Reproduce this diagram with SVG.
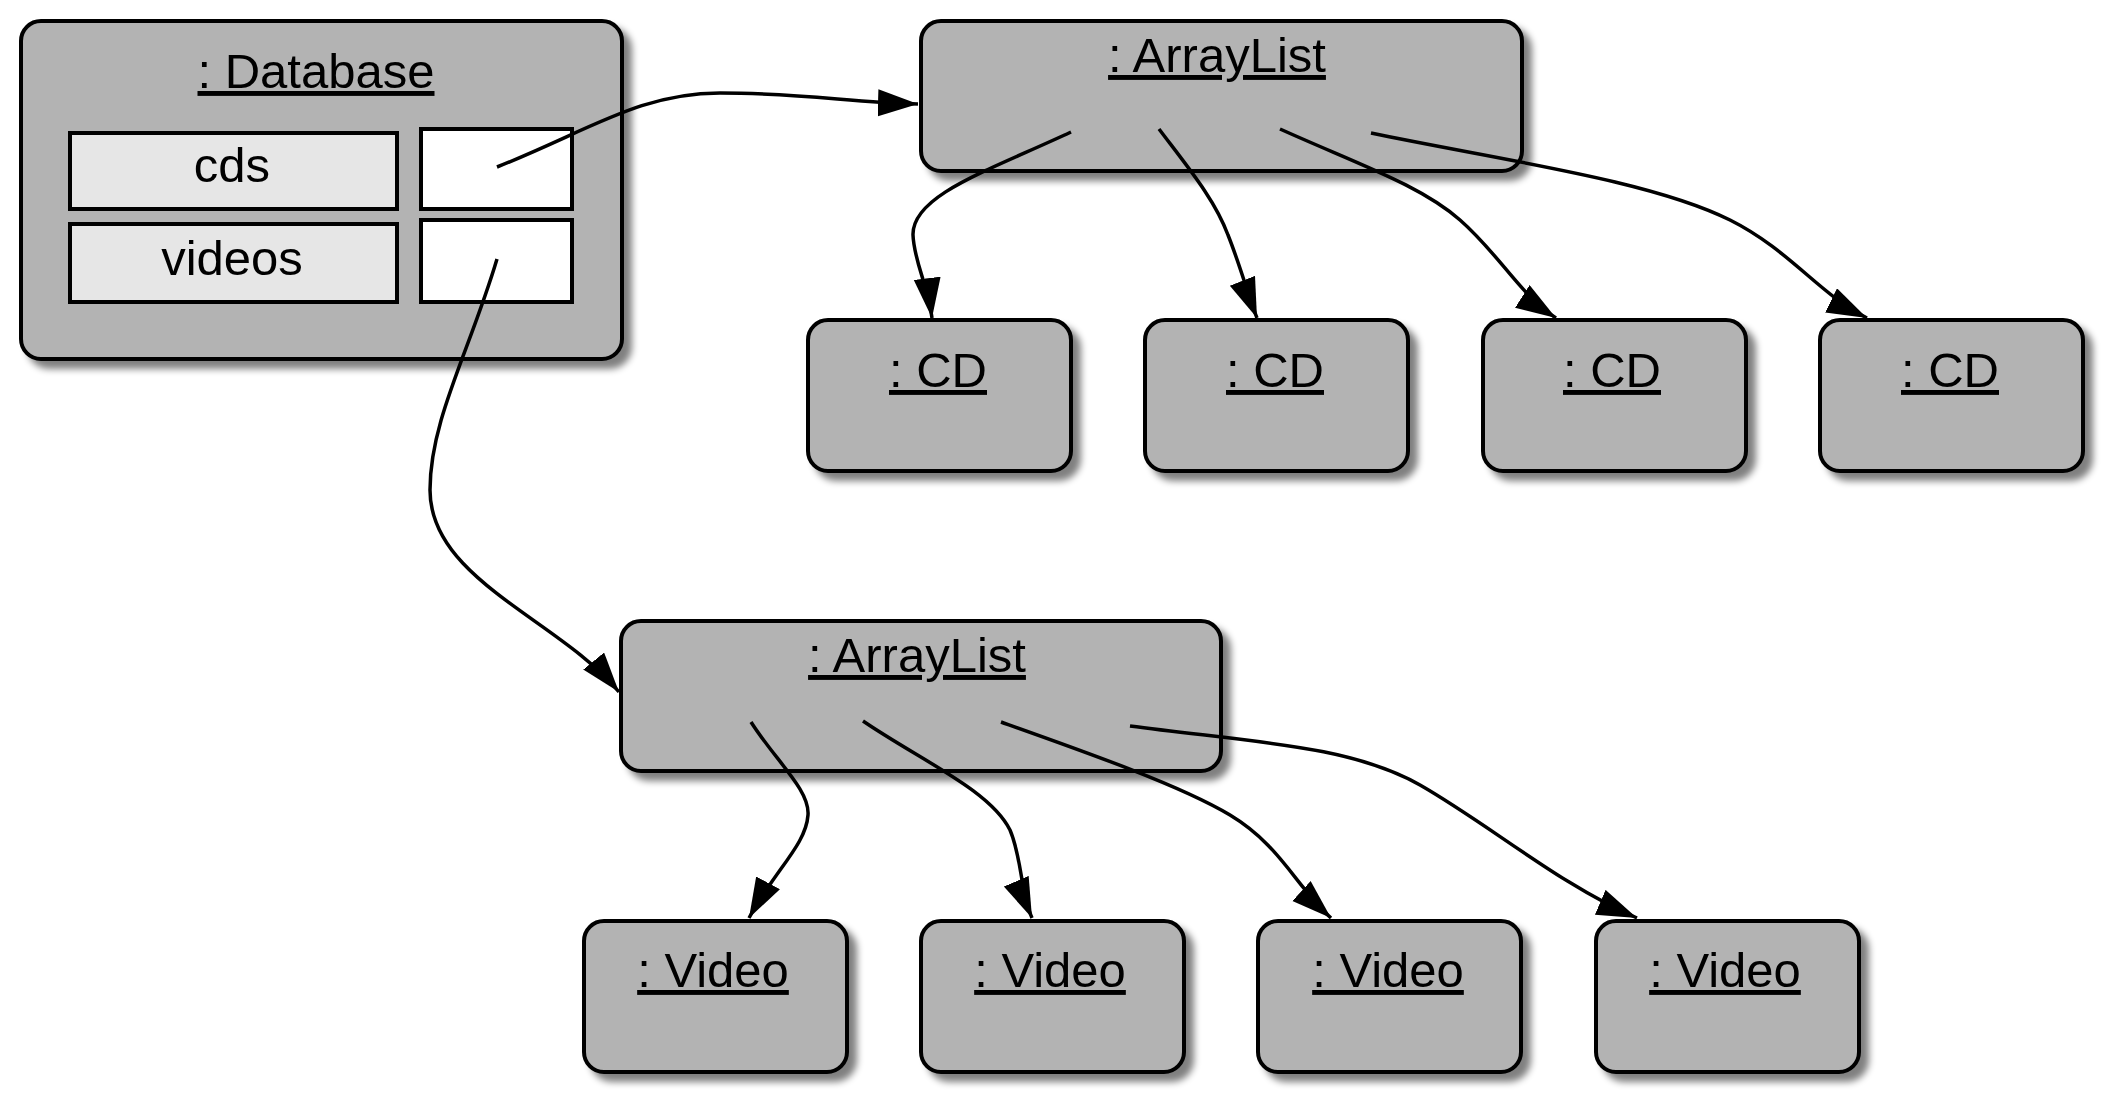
<svg xmlns="http://www.w3.org/2000/svg" width="2108" height="1095" viewBox="0 0 2108 1095">
<defs>
<filter id="sh" x="-10%" y="-10%" width="130%" height="140%">
<feGaussianBlur in="SourceAlpha" stdDeviation="3.5"/>
<feOffset dx="8" dy="8" result="b"/>
<feComponentTransfer in="b" result="c"><feFuncA type="linear" slope="0.5"/></feComponentTransfer>
<feMerge><feMergeNode in="c"/><feMergeNode in="SourceGraphic"/></feMerge>
</filter>
<marker id="ah" markerUnits="userSpaceOnUse" markerWidth="42" markerHeight="30" refX="40" refY="13.5" orient="auto" viewBox="0 0 42 30">
<path d="M0,0 L40,13.5 L0,27 z" fill="#000"/>
</marker>
</defs>
<style>
.obj{fill:#b3b3b3;stroke:#000;stroke-width:4;filter:url(#sh)}
.lbl{fill:#e6e6e6;stroke:#000;stroke-width:4}
.val{fill:#fff;stroke:#000;stroke-width:4}
text{font-family:"Liberation Sans",Arial,sans-serif;font-size:49px;fill:#000;text-anchor:middle}
.u{text-decoration:underline}
.c{fill:none;stroke:#000;stroke-width:3.5;marker-end:url(#ah)}
</style>
<rect width="2108" height="1095" fill="#fff"/>
<g id="database">
<rect class="obj" x="21" y="21" width="601" height="338" rx="20"/>
<text class="u" x="316" y="88">: Database</text>
<rect class="lbl" x="70" y="133" width="327" height="76"/>
<text x="232" y="182">cds</text>
<rect class="val" x="421" y="129" width="151" height="80"/>
<rect class="lbl" x="70" y="224" width="327" height="78"/>
<text x="232" y="275">videos</text>
<rect class="val" x="421" y="220" width="151" height="82"/>
</g>
<g id="arraylist1">
<rect class="obj" x="921" y="21" width="601" height="150" rx="20"/>
<text class="u" x="1217" y="72">: ArrayList</text>
</g>
<g id="cd1"><rect class="obj" x="808" y="320" width="263" height="151" rx="20"/><text class="u" x="938" y="387">: CD</text></g>
<g id="cd2"><rect class="obj" x="1145" y="320" width="263" height="151" rx="20"/><text class="u" x="1275" y="387">: CD</text></g>
<g id="cd3"><rect class="obj" x="1483" y="320" width="263" height="151" rx="20"/><text class="u" x="1612" y="387">: CD</text></g>
<g id="cd4"><rect class="obj" x="1820" y="320" width="263" height="151" rx="20"/><text class="u" x="1950" y="387">: CD</text></g>
<g id="arraylist2">
<rect class="obj" x="621" y="621" width="600" height="150" rx="20"/>
<text class="u" x="917" y="672">: ArrayList</text>
</g>
<g id="video1"><rect class="obj" x="584" y="921" width="263" height="151" rx="20"/><text class="u" x="713" y="987">: Video</text></g>
<g id="video2"><rect class="obj" x="921" y="921" width="263" height="151" rx="20"/><text class="u" x="1050" y="987">: Video</text></g>
<g id="video3"><rect class="obj" x="1258" y="921" width="263" height="151" rx="20"/><text class="u" x="1388" y="987">: Video</text></g>
<g id="video4"><rect class="obj" x="1596" y="921" width="263" height="151" rx="20"/><text class="u" x="1725" y="987">: Video</text></g>
<g id="connectors">
<path class="c" d="M497,167 C590,130 640,93 720,93 S850,102 918,104"/>
<path class="c" d="M497,259 C470,350 430,420 430,490 C430,580 560,620 619,692"/>
<path class="c" d="M1071,132 C990,170 912,195 913,235 C914,262 928,285 932,318"/>
<path class="c" d="M1159,129 C1190,170 1215,200 1228,235 C1240,265 1248,295 1257,318"/>
<path class="c" d="M1280,129 C1360,165 1420,185 1460,220 C1500,255 1520,295 1556,318"/>
<path class="c" d="M1371,133 C1500,160 1650,180 1730,220 C1790,250 1820,295 1867,318"/>
<path class="c" d="M751,722 C775,760 810,790 808,815 C806,845 775,870 749,918"/>
<path class="c" d="M863,721 C920,760 990,790 1010,830 C1022,858 1020,890 1032,918"/>
<path class="c" d="M1001,722 C1080,750 1180,785 1230,815 C1280,845 1295,885 1331,918"/>
<path class="c" d="M1130,726 C1250,742 1350,745 1420,785 C1490,825 1560,885 1637,918"/>
</g>
</svg>
